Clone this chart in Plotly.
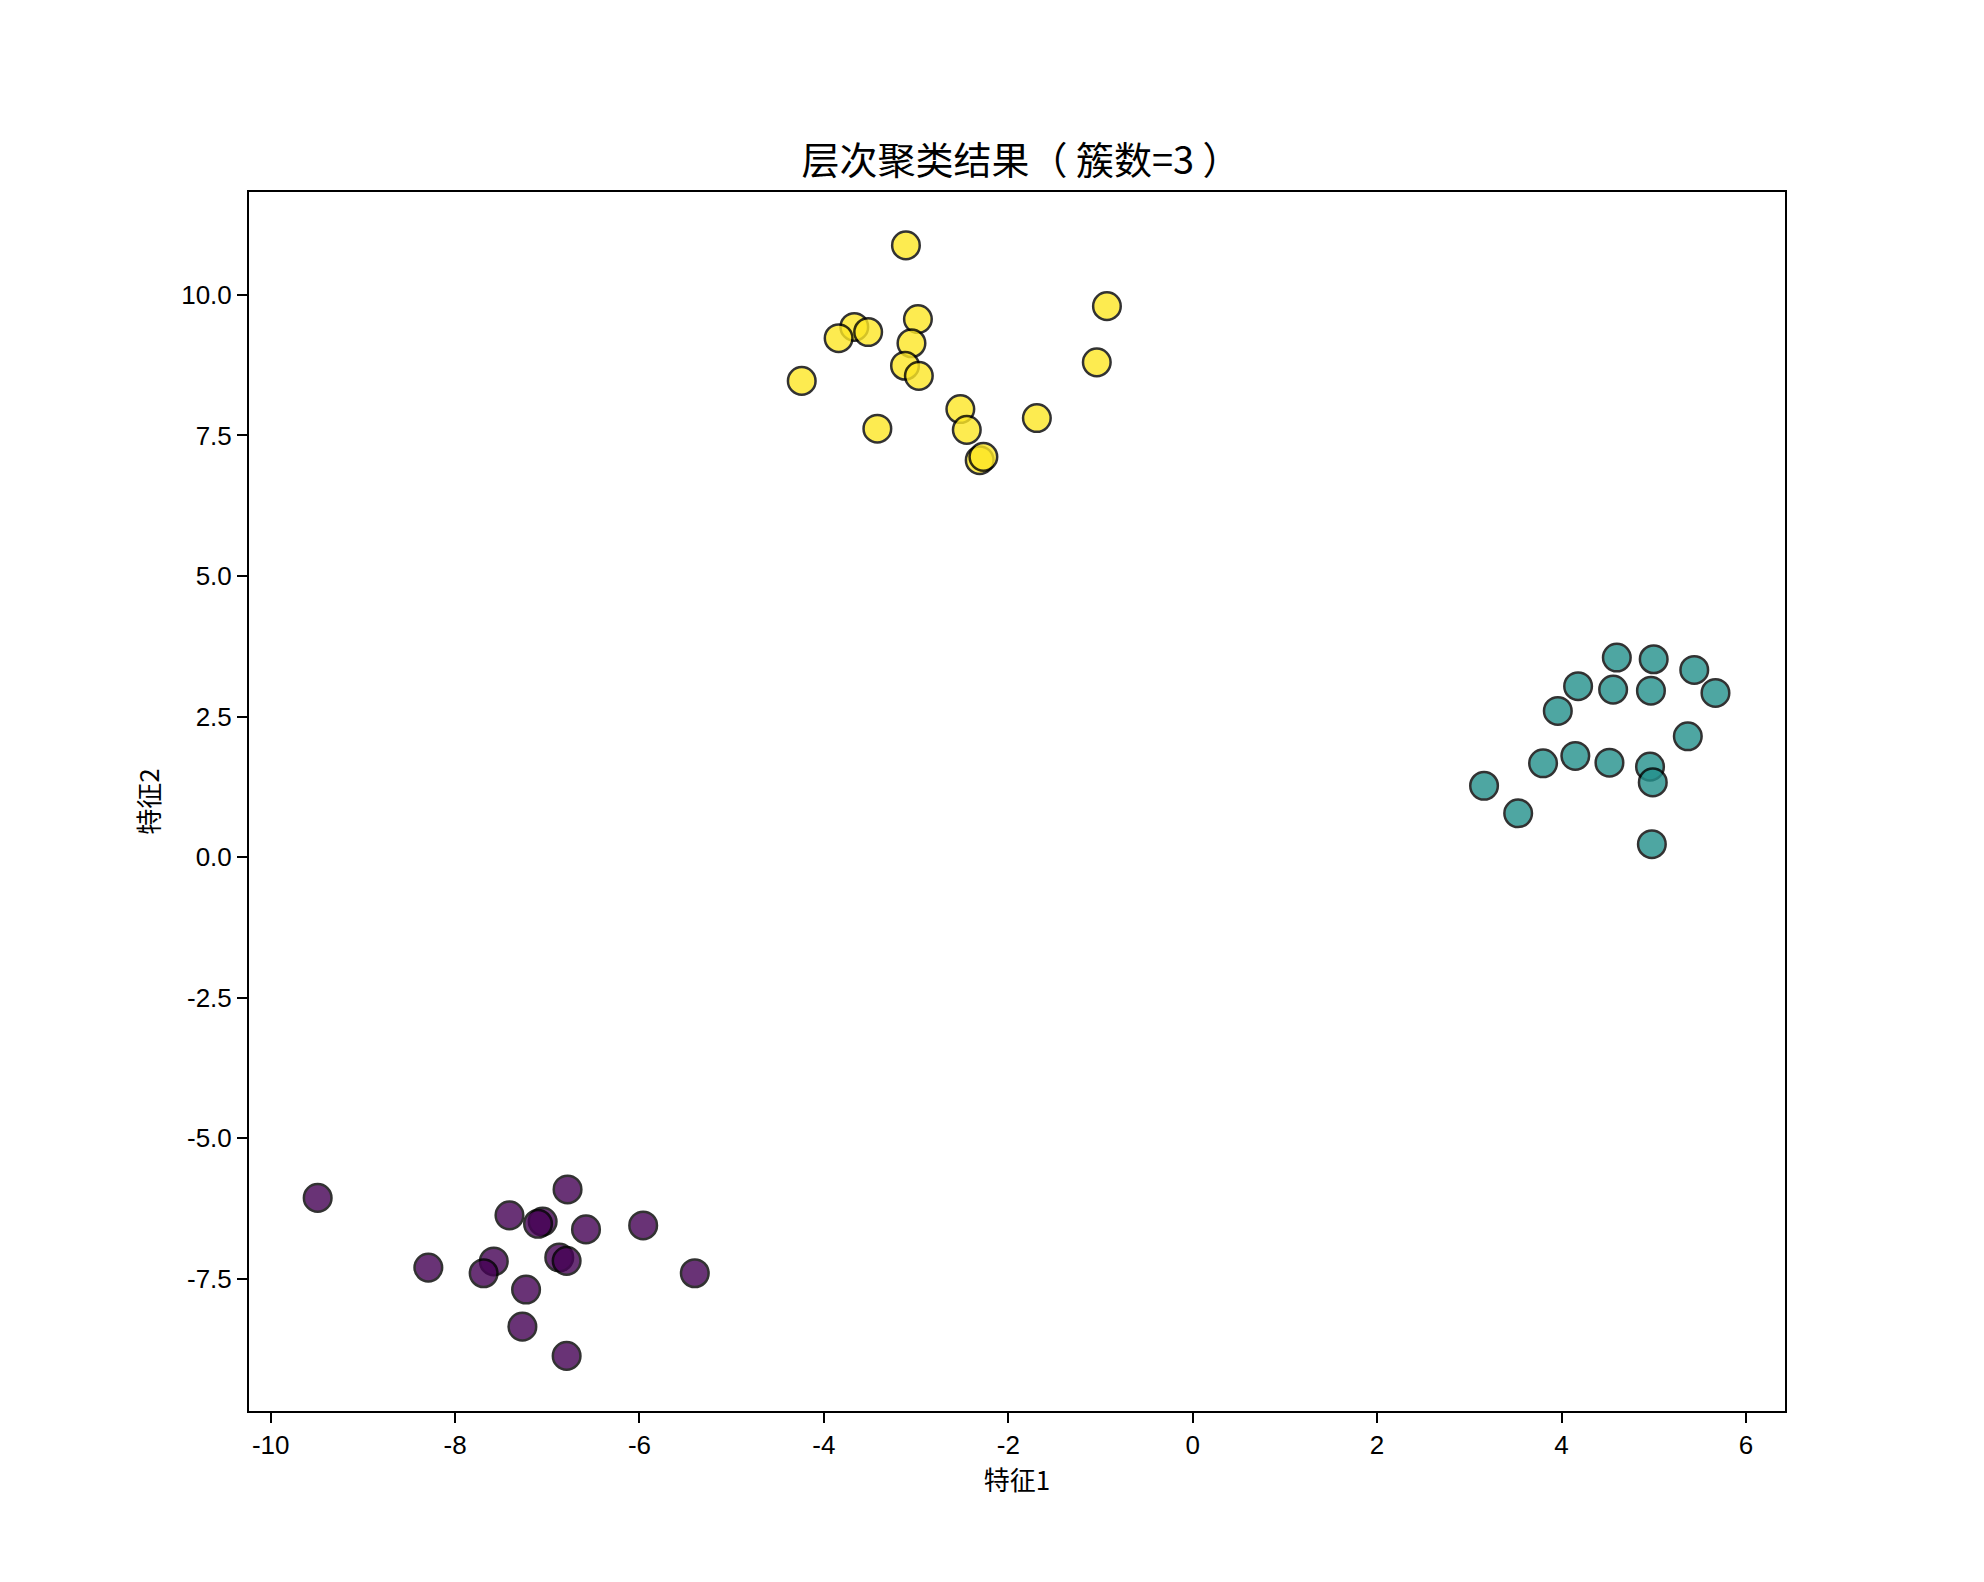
import plotly.graph_objects as go

# Cluster 0 (purple)
c0_x = [-9.49, -6.78, -7.41, -7.05, -7.10, -6.58, -5.96, -8.29, -7.58, -7.69, -6.87, -6.79, -5.40, -7.23, -7.27, -6.79]
c0_y = [-6.06, -5.91, -6.37, -6.48, -6.52, -6.62, -6.55, -7.30, -7.19, -7.40, -7.12, -7.18, -7.40, -7.69, -8.35, -8.87]
# Cluster 1 (teal)
c1_x = [4.60, 5.00, 5.44, 4.18, 4.56, 4.97, 5.67, 3.96, 5.37, 3.80, 4.15, 4.52, 4.96, 4.99, 3.16, 3.53, 4.98]
c1_y = [3.55, 3.52, 3.33, 3.04, 2.98, 2.96, 2.92, 2.60, 2.15, 1.67, 1.80, 1.68, 1.61, 1.33, 1.27, 0.78, 0.23]
# Cluster 2 (yellow)
c2_x = [-3.11, -0.93, -2.98, -3.67, -3.52, -3.84, -3.05, -3.12, -2.97, -1.04, -4.24, -2.52, -2.45, -1.69, -3.42, -2.31, -2.27]
c2_y = [10.88, 9.80, 9.57, 9.43, 9.34, 9.23, 9.14, 8.74, 8.56, 8.80, 8.47, 7.97, 7.60, 7.81, 7.62, 7.06, 7.12]

x_ticks = [-10, -8, -6, -4, -2, 0, 2, 4, 6]
x_tick_labels = ["-10", "-8", "-6", "-4", "-2", "0", "2", "4", "6"]
y_ticks = [-7.5, -5.0, -2.5, 0.0, 2.5, 5.0, 7.5, 10.0]
y_tick_labels = ["-7.5", "-5.0", "-2.5", "0.0", "2.5", "5.0", "7.5", "10.0"]

title_text = "层次聚类结果（ 簇数=3 ）"
x_label = "特征1"
y_label = "特征2"

xs = c0_x + c1_x + c2_x
ys = c0_y + c1_y + c2_y
labels = [0] * len(c0_x) + [1] * len(c1_x) + [2] * len(c2_x)

fig = go.Figure()
fig.add_trace(go.Scatter(
    x=xs, y=ys, mode="markers",
    marker=dict(
        size=27.6,
        color=labels,
        colorscale="Viridis",
        cmin=0, cmax=2,
        opacity=0.8,
        line=dict(color="black", width=2.5),
    ),
    showlegend=False,
    hoverinfo="x+y",
))

cjk = "Noto Sans CJK SC, sans-serif"
num = "Liberation Sans, Arial, sans-serif"

fig.update_layout(
    width=1984, height=1582,
    paper_bgcolor="white", plot_bgcolor="white",
    margin=dict(l=249, r=199, t=192, b=171, pad=0),
    title=dict(text=title_text, x=1021 / 1984, xanchor="center",
               y=1 - 161 / 1582, yanchor="middle",
               font=dict(family=cjk, size=38, color="black")),
    xaxis=dict(
        range=[-10.235, 6.424],
        tickmode="array", tickvals=x_ticks, ticktext=x_tick_labels,
        ticks="outside", ticklen=10, tickwidth=2, tickcolor="black",
        showline=True, linecolor="black", linewidth=2, mirror=True,
        showgrid=False, zeroline=False,
        tickfont=dict(family=num, size=26, color="black"),
        title=dict(text=x_label, font=dict(family=cjk, size=26, color="black"), standoff=12),
    ),
    yaxis=dict(
        range=[-9.85, 11.83],
        tickmode="array", tickvals=y_ticks, ticktext=y_tick_labels,
        ticks="outside", ticklen=10, tickwidth=2, tickcolor="black",
        showline=True, linecolor="black", linewidth=2, mirror=True,
        showgrid=False, zeroline=False,
        tickfont=dict(family=num, size=26, color="black"),
        title=dict(text=y_label, font=dict(family=cjk, size=26, color="black"), standoff=14),
    ),
)

fig.write_html("out.html", config={"displayModeBar": False},
               post_script="document.body.style.margin='0';")
